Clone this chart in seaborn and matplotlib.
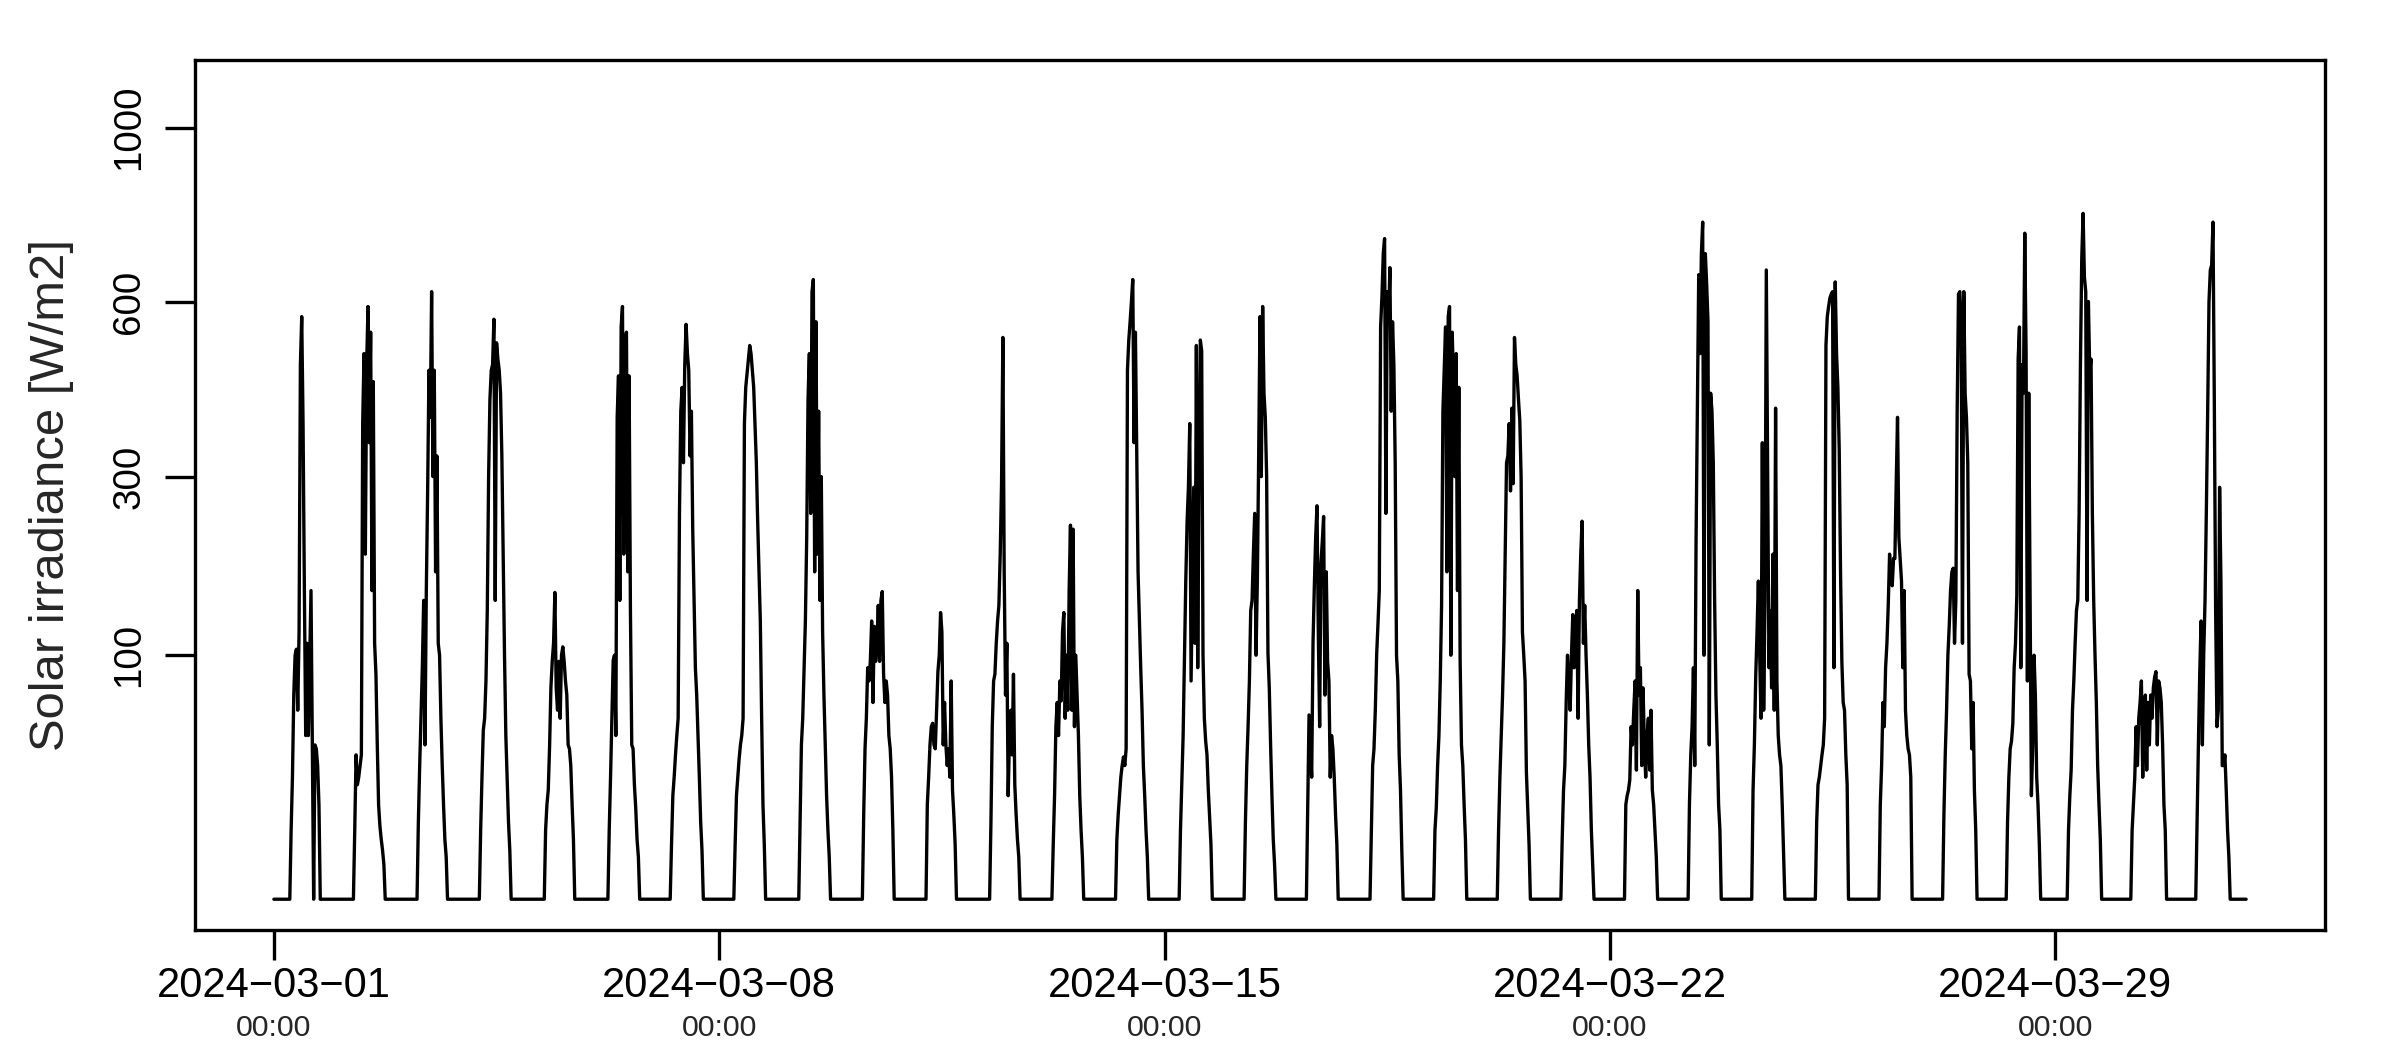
import numpy as np
import pandas as pd
import seaborn as sns
import matplotlib.pyplot as plt
import matplotlib.transforms as mtransforms

# half-hourly solar irradiance [W/m2] per day of March 2024
# each list starts at the hour given in first_hour (same index = same day)
mar01 = [0, 8, 25, 70, 100, 105, 60, 120, 480, 570, 380, 160, 45, 110, 45, 95, 160, 40, 0, 40, 38, 30, 15, 0, 0]
mar02 = [0, 8, 35, 22, 25, 30, 35, 380, 500, 200, 480, 590, 350, 540, 160, 450, 110, 85, 40, 15, 9, 6, 4, 2, 0]
mar03 = [0, 10, 30, 55, 90, 150, 40, 160, 280, 470, 390, 620, 300, 470, 180, 330, 110, 100, 55, 30, 15, 6, 3, 0, 0]
mar04 = [8, 25, 48, 55, 80, 140, 300, 420, 470, 480, 565, 150, 520, 490, 470, 430, 330, 200, 100, 45, 25, 10, 4, 0, 0]
mar05 = [0, 8, 15, 20, 39, 75, 95, 110, 158, 75, 60, 95, 55, 100, 107, 95, 80, 70, 40, 38, 30, 15, 6, 0, 0]
mar06 = [0, 8, 25, 55, 96, 100, 45, 390, 460, 150, 550, 590, 200, 520, 540, 180, 460, 140, 40, 38, 22, 14, 6, 3, 0]
mar07 = [5, 18, 25, 35, 45, 55, 250, 400, 440, 320, 480, 555, 500, 470, 330, 400, 230, 150, 90, 70, 45, 25, 10, 4, 0]
mar08 = [5, 18, 25, 33, 40, 45, 55, 380, 440, 465, 490, 515, 500, 470, 440, 380, 320, 240, 180, 130, 55, 15, 5, 0, 0]
mar09 = [0, 10, 40, 55, 90, 130, 220, 420, 500, 250, 620, 645, 180, 560, 200, 400, 150, 300, 120, 70, 40, 18, 8, 3, 0]
mar10 = [0, 12, 38, 55, 90, 80, 95, 130, 65, 125, 95, 110, 145, 95, 150, 159, 85, 65, 80, 70, 45, 38, 25, 8, 0]
mar11 = [0, 15, 25, 40, 50, 52, 40, 38, 60, 87, 100, 138, 120, 40, 65, 40, 30, 38, 25, 80, 20, 12, 5, 0, 0]
mar12 = [0, 10, 50, 80, 85, 110, 130, 145, 200, 290, 530, 180, 70, 110, 18, 45, 60, 35, 85, 22, 12, 6, 3, 0, 0]
mar13 = [5, 18, 50, 65, 45, 80, 66, 120, 138, 55, 100, 60, 160, 235, 60, 230, 50, 100, 70, 45, 18, 8, 3, 0, 0]
mar14 = [6, 12, 18, 25, 30, 34, 30, 38, 470, 525, 560, 600, 645, 350, 540, 330, 180, 130, 90, 60, 30, 18, 8, 3, 0]
mar15 = [8, 22, 45, 100, 170, 240, 285, 380, 80, 170, 285, 110, 515, 90, 300, 525, 505, 100, 55, 42, 35, 20, 11, 5, 0]
mar16 = [0, 10, 30, 50, 80, 140, 150, 200, 250, 100, 170, 330, 570, 300, 590, 430, 390, 300, 102, 75, 40, 18, 6, 2, 0]
mar17 = [15, 57, 40, 25, 110, 165, 220, 260, 118, 50, 190, 215, 246, 70, 180, 95, 80, 25, 45, 38, 25, 12, 5, 0, 0]
mar18 = [8, 30, 38, 60, 100, 127, 160, 550, 610, 700, 733, 250, 620, 560, 670, 400, 560, 480, 320, 100, 80, 35, 20, 4, 0]
mar19 = [8, 14, 30, 45, 80, 145, 400, 470, 550, 180, 570, 590, 100, 540, 450, 300, 500, 160, 440, 95, 40, 30, 15, 6, 0]
mar20 = [8, 25, 45, 70, 110, 200, 320, 330, 380, 280, 405, 290, 530, 480, 460, 420, 385, 300, 120, 100, 80, 27, 14, 5, 0]
mar21 = [6, 20, 30, 65, 100, 80, 60, 100, 136, 90, 120, 140, 55, 150, 200, 240, 110, 145, 100, 70, 40, 25, 8, 2, 0]
mar22 = [15, 18, 20, 24, 50, 40, 60, 80, 28, 160, 70, 90, 30, 75, 40, 25, 45, 55, 28, 60, 20, 15, 8, 3, 0]
mar23 = [15, 35, 50, 90, 30, 217, 400, 655, 500, 700, 770, 100, 700, 635, 560, 40, 430, 400, 320, 150, 70, 40, 15, 8, 0]
mar24 = [20, 40, 83, 120, 170, 100, 55, 350, 60, 150, 665, 320, 90, 140, 75, 200, 60, 405, 80, 45, 35, 30, 15, 4, 0]
mar25 = [10, 22, 25, 30, 35, 40, 55, 515, 570, 590, 607, 615, 620, 90, 640, 500, 440, 340, 180, 95, 65, 60, 35, 22, 0]
mar26 = [15, 30, 65, 50, 90, 110, 145, 200, 175, 165, 195, 195, 290, 390, 220, 195, 170, 90, 160, 60, 45, 38, 35, 25, 0]
mar27 = [12, 35, 60, 100, 125, 160, 180, 184, 110, 150, 400, 615, 620, 560, 110, 620, 430, 390, 320, 85, 80, 38, 65, 20, 8]
mar28 = [10, 25, 38, 42, 52, 90, 110, 155, 490, 550, 90, 480, 430, 745, 500, 80, 430, 160, 18, 40, 100, 70, 25, 15, 5]
mar29 = [8, 18, 28, 60, 80, 110, 140, 150, 250, 480, 690, 790, 650, 620, 150, 600, 470, 490, 250, 150, 100, 65, 30, 15, 6]
mar30 = [8, 15, 25, 50, 30, 55, 65, 80, 25, 60, 70, 28, 65, 40, 70, 55, 75, 83, 87, 40, 80, 75, 65, 40, 15, 8]
mar31 = [0, 10, 40, 85, 130, 40, 100, 150, 253, 400, 600, 665, 675, 770, 420, 140, 50, 60, 285, 170, 30, 30, 35, 20, 8, 3]

day_lists = [mar01, mar02, mar03, mar04, mar05, mar06, mar07, mar08, mar09, mar10,
             mar11, mar12, mar13, mar14, mar15, mar16, mar17, mar18, mar19, mar20,
             mar21, mar22, mar23, mar24, mar25, mar26, mar27, mar28, mar29, mar30, mar31]
first_hour = [6] * 28 + [5, 5, 5]

y_ticks = [100, 300, 600, 1000]
x_ticks = ['2024-03-01', '2024-03-08', '2024-03-15', '2024-03-22', '2024-03-29']
x_tick_time = '00:00'

# build the series: zero at night, day values on a 30 min grid
times = pd.date_range('2024-03-01 00:00', '2024-04-01 00:00', freq='30min')
irr = pd.Series(0.0, index=times)
for i, (vals, h0) in enumerate(zip(day_lists, first_hour)):
    t0 = pd.Timestamp('2024-03-01') + pd.Timedelta(days=i, hours=h0)
    irr.loc[pd.date_range(t0, periods=len(vals), freq='30min')] = vals
df = pd.DataFrame({'time': irr.index, 'irradiance': irr.values})


def fwd(v):
    return np.sign(v) * np.sqrt(np.abs(v))


def inv(v):
    return np.sign(v) * v ** 2


sns.set_theme(style='ticks')
plt.rcParams['font.family'] = ['Liberation Sans', 'DejaVu Sans']
plt.rcParams['axes.linewidth'] = 1.6

fig = plt.figure(figsize=(16, 7), dpi=150)
ax = fig.add_axes([0.08125, 0.1143, 0.8875, 0.8286])
sns.lineplot(data=df, x='time', y='irradiance', color='black', linewidth=1.6,
             estimator=None, ax=ax)

ax.set_yscale('function', functions=(fwd, inv))
ax.set_ylim(-1.59, 1183)
ax.set_yticks(y_ticks)
ax.set_yticklabels([str(v) for v in y_ticks], rotation=90, va='center', fontsize=18.5)
ax.minorticks_off()

start = pd.Timestamp('2024-03-01')
end = pd.Timestamp('2024-04-01')
ax.set_xlim(start - pd.Timedelta(days=1.24), end + pd.Timedelta(days=1.24))
tick_dates = pd.to_datetime(x_ticks)
ax.set_xticks(tick_dates)
ax.set_xticklabels([t.replace('-', '\u2212') for t in x_ticks], fontsize=20)

ax.tick_params(axis='both', length=14.5, width=1.6, color='black', labelcolor='black')
ax.tick_params(axis='x', pad=2.6)
ax.tick_params(axis='y', pad=8.5)

trans = mtransforms.blended_transform_factory(ax.transData, ax.transAxes)
for d in tick_dates:
    ax.text(d, -0.1132, x_tick_time, transform=trans, ha='center', va='center', fontsize=14.5)

ax.set_xlabel('')
ax.set_ylabel('')
ax.text(-0.0676, 0.5, 'Solar irradiance [W/m2]', transform=ax.transAxes, rotation=90,
        ha='center', va='center', fontsize=23.5)

for s in ax.spines.values():
    s.set_visible(True)
    s.set_color('black')

fig.savefig('out.png', dpi=150, facecolor='white')
